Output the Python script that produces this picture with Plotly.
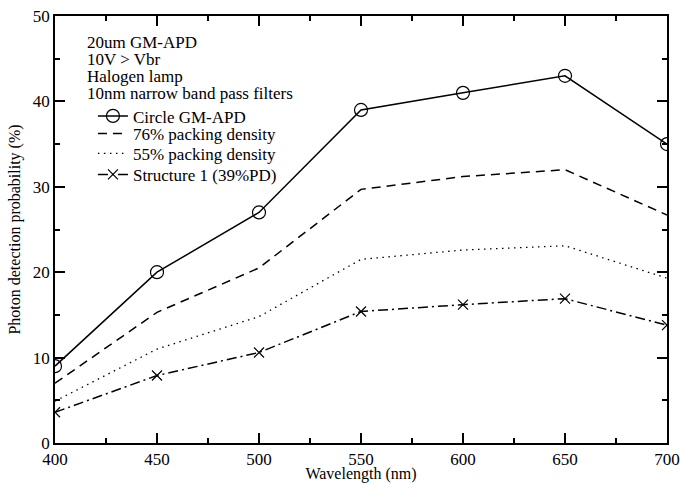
import plotly.graph_objects as go

wavelength = [400, 450, 500, 550, 600, 650, 700]
circle_gmapd = [9.0, 20.0, 27.0, 39.0, 41.0, 43.0, 35.0]
pd76 = [7.0, 15.3, 20.5, 29.7, 31.2, 32.0, 26.7]
pd55 = [4.9, 11.0, 14.8, 21.5, 22.6, 23.1, 19.3]
structure1 = [3.6, 7.9, 10.6, 15.4, 16.2, 16.9, 13.8]

series_names = ["Circle GM-APD", "76% packing density", "55% packing density", "Structure 1 (39%PD)"]
header_lines = ["20um GM-APD", "10V > Vbr", "Halogen lamp", "10nm narrow band pass filters"]

FONT = "Liberation Serif, Times New Roman, serif"
fig = go.Figure()
fig.add_trace(go.Scatter(x=wavelength, y=circle_gmapd, name=series_names[0], mode="lines+markers",
                         legend="legend",
                         line=dict(color="black", width=1.5),
                         marker=dict(symbol="circle-open", size=13, color="black", line=dict(width=1.2))))
fig.add_trace(go.Scatter(x=wavelength, y=pd76, name=series_names[1], mode="lines", legend="legend2",
                         line=dict(color="black", width=1.5, dash="9px,6px")))
fig.add_trace(go.Scatter(x=wavelength, y=pd55, name=series_names[2], mode="lines", legend="legend3",
                         line=dict(color="black", width=1.3, dash="1.5px,4.5px")))
fig.add_trace(go.Scatter(x=wavelength, y=structure1, name=series_names[3], mode="lines+markers",
                         legend="legend4",
                         line=dict(color="black", width=1.5, dash="10px,4px,2px,4px"),
                         marker=dict(symbol="x-thin-open", size=10, color="black", line=dict(width=1.2, color="black"))))

for i, t in enumerate(header_lines):
    fig.add_annotation(x=0.049, y=0.938 - i * 0.04, xref="paper", yref="paper", text=t, showarrow=False,
                       xanchor="left", yanchor="middle", font=dict(family=FONT, size=17, color="black"))

fig.update_xaxes(range=[400, 700], dtick=50, showline=True, linecolor="black", linewidth=1.5,
                 ticks="inside", ticklen=10, tickwidth=2, tickcolor="black", mirror="allticks",
                 layer="above traces",
                 gridcolor="rgba(0,0,0,0)", tickfont=dict(family=FONT, size=17, color="black"),
                 title=dict(text="Wavelength (nm)", standoff=0, font=dict(family=FONT, size=16, color="black")),
                 minor=dict(ticks="inside", ticklen=5, tickwidth=2, tickcolor="black", dtick=25))
fig.update_yaxes(range=[0, 50], dtick=10, showline=True, linecolor="black", linewidth=1.5,
                 ticks="inside", ticklen=10, tickwidth=2, tickcolor="black", mirror="allticks",
                 layer="above traces",
                 gridcolor="rgba(0,0,0,0)", zerolinecolor="black", zerolinewidth=1.5,
                 tickfont=dict(family=FONT, size=17, color="black"),
                 title=dict(text="Photon detection probability (%)", standoff=8,
                            font=dict(family=FONT, size=16, color="black")),
                 minor=dict(ticks="inside", ticklen=5, tickwidth=2, tickcolor="black", dtick=5))

legend_y = [0.765, 0.724, 0.677, 0.628]
legend_keys = ["legend", "legend2", "legend3", "legend4"]
legends = {}
for key, ly in zip(legend_keys, legend_y):
    legends[key] = dict(x=0.062, y=ly, xanchor="left", yanchor="middle", bgcolor="rgba(0,0,0,0)",
                        font=dict(family=FONT, size=17, color="black"), borderwidth=0)

fig.update_layout(width=680, height=483, margin=dict(l=55, r=13, t=16, b=40, autoexpand=False),
                  paper_bgcolor="white", plot_bgcolor="white", showlegend=True,
                  font=dict(family=FONT, color="black"), **legends)
fig.write_html("out.html", config={"displayModeBar": False},
               post_script="document.body.style.margin='0';")
